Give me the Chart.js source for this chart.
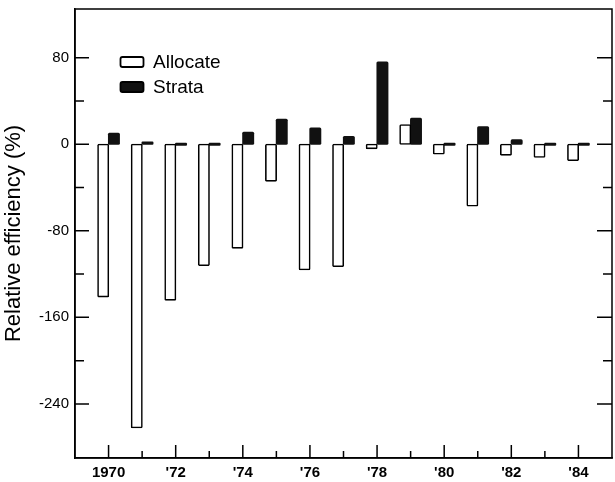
<!DOCTYPE html>
<html>
<head>
<meta charset="utf-8">
<script src="https://cdn.jsdelivr.net/npm/chart.js@4"></script>
<style>
  html, body { margin: 0; padding: 0; background: #fff; }
</style>
</head>
<body>
<canvas id="effChart" width="615" height="482"></canvas>
<script>
const years = [1970, 1971, 1972, 1973, 1974, 1975, 1976, 1977, 1978, 1979, 1980, 1981, 1982, 1983, 1984];
const allocate = [-141, -262, -144, -112, -96, -34, -116, -113, -4, 18, -9, -57, -10, -12, -15];
const strata = [10, 2, 0, 0, 11, 23, 15, 7, 76, 24, 0, 16, 4, 0, 0];
const tickYears = [1970, 1972, 1974, 1976, 1978, 1980, 1982, 1984];
const tickLabels = ['1970', "'72", "'74", "'76", "'78", "'80", "'82", "'84"];
const yLabelValues = [80, 0, -80, -160, -240];

const FONT = "'Liberation Sans', Arial, Helvetica, sans-serif";

// inward ticks, frame and the boxed legend
const framePlugin = {
  id: 'frame',
  afterDraw(chart) {
    const ctx = chart.ctx;
    const a = chart.chartArea;
    const xs = chart.scales.x, ys = chart.scales.y;
    ctx.save();
    ctx.strokeStyle = '#000';
    ctx.lineWidth = 1.5;
    ctx.strokeRect(a.left, a.top, a.right - a.left, a.bottom - a.top);

    ctx.beginPath();
    ys.ticks.forEach(t => {
      const y = ys.getPixelForValue(t.value);
      const major = yLabelValues.includes(t.value);
      ctx.moveTo(a.left, y);
      ctx.lineTo(a.left + (major ? 14 : 9), y);
      ctx.moveTo(a.right, y);
      ctx.lineTo(a.right - (major ? 15 : 9), y);
    });
    xs.ticks.forEach(t => {
      if (t.value <= xs.min || t.value >= xs.max) return;
      const x = xs.getPixelForValue(t.value);
      const major = tickYears.includes(t.value);
      ctx.moveTo(x, a.bottom);
      ctx.lineTo(x, a.bottom - (major ? 13 : 7));
    });
    ctx.stroke();

    // legend
    const ds = chart.data.datasets;
    ctx.font = '19px ' + FONT;
    ctx.textBaseline = 'middle';
    ctx.textAlign = 'left';
    ds.forEach((d, i) => {
      const cy = 62 + i * 25;
      ctx.beginPath();
      ctx.roundRect(120.5, cy - 5, 23, 10, 2);
      ctx.fillStyle = d.backgroundColor;
      ctx.fill();
      ctx.lineWidth = 1.8;
      ctx.strokeStyle = '#000';
      ctx.stroke();
      ctx.fillStyle = '#000';
      ctx.fillText(d.label, 153, cy + 1);
    });
    ctx.restore();
  }
};

new Chart(document.getElementById('effChart'), {
  type: 'bar',
  data: {
    datasets: [
      {
        label: 'Allocate',
        data: years.map((y, i) => ({ x: y, y: allocate[i] })),
        backgroundColor: '#ffffff',
        borderColor: '#000000',
        borderWidth: 1.6,
        borderSkipped: false,
        borderRadius: 1.5,
        inflateAmount: 0.6
      },
      {
        label: 'Strata',
        data: years.map((y, i) => ({ x: y, y: strata[i] })),
        backgroundColor: '#111111',
        borderWidth: 0,
        borderSkipped: false,
        borderRadius: 1.5,
        inflateAmount: 0.6,
        minBarLength: 2
      }
    ]
  },
  options: {
    responsive: false,
    animation: false,
    categoryPercentage: 0.64,
    barPercentage: 1,
    layout: { padding: { top: 9, right: 3, left: 0, bottom: 0 } },
    plugins: {
      legend: { display: false },
      tooltip: { enabled: false }
    },
    scales: {
      x: {
        type: 'linear',
        offset: false,
        min: 1969,
        max: 1985,
        afterFit(scale) {
          scale.height = 24;
          scale.paddingLeft = 0;
          scale.paddingRight = 0;
        },
        grid: { display: false, drawTicks: false },
        border: { display: true, color: '#000', width: 1.5 },
        ticks: {
          stepSize: 1,
          autoSkip: false,
          maxRotation: 0,
          padding: 6,
          color: '#000',
          font: { family: FONT, size: 15, weight: 'bold' },
          callback(value) {
            const i = tickYears.indexOf(value);
            return i >= 0 ? tickLabels[i] : '';
          }
        }
      },
      y: {
        min: -290,
        max: 125,
        afterFit(scale) {
          scale.width = 75;
          scale.paddingTop = 0;
          scale.paddingBottom = 0;
        },
        afterBuildTicks(scale) {
          scale.ticks = scale.ticks.filter(t => t.value >= -280 && t.value <= 80 && t.value % 40 === 0);
        },
        grid: { display: false, drawTicks: false },
        border: { display: true, color: '#000', width: 1.5 },
        title: {
          display: true,
          text: 'Relative efficiency (%)',
          color: '#000',
          font: { family: FONT, size: 22 },
          padding: { top: 1, bottom: 0 }
        },
        ticks: {
          stepSize: 40,
          padding: 6,
          color: '#000',
          font: { family: FONT, size: 15 },
          callback(value) {
            return yLabelValues.includes(value) ? String(value) : '';
          }
        }
      }
    }
  },
  plugins: [framePlugin]
});
</script>
</body>
</html>
